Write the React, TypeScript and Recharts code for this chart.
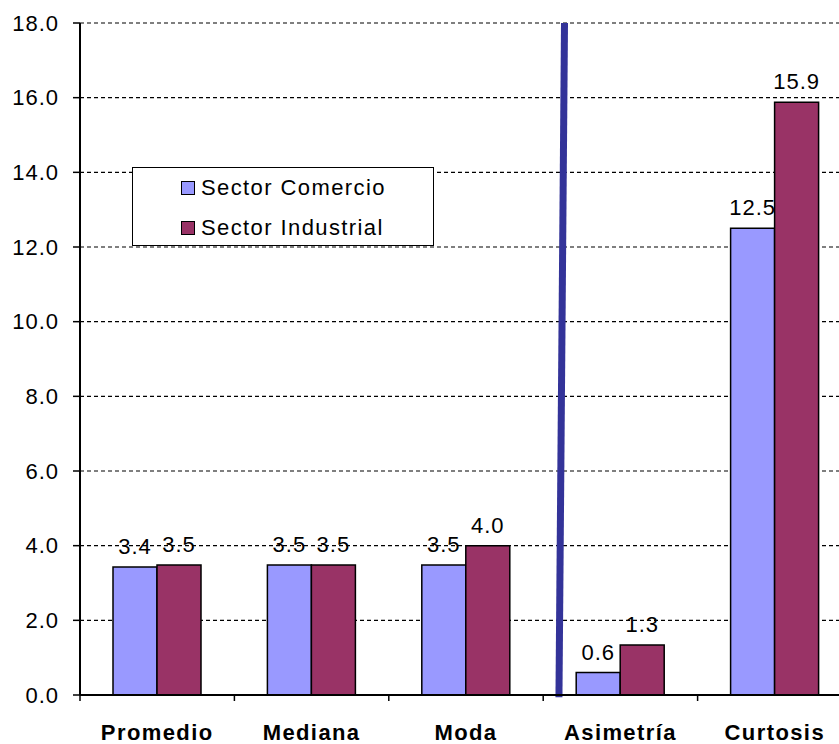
import { BarChart, Bar, XAxis, YAxis, CartesianGrid, LabelList, ReferenceLine } from "recharts";

const categories = ["Promedio", "Mediana", "Moda", "Asimetría", "Curtosis"];
const comercio = [3.43, 3.48, 3.48, 0.6, 12.5];
const industrial = [3.48, 3.48, 4.0, 1.34, 15.88];
const seriesNames = ["Sector Comercio", "Sector Industrial"];
const seriesColors = ["#9999FF", "#993366"];
const yTicks = [0, 2, 4, 6, 8, 10, 12, 14, 16, 18];
// divider drawn between Moda and Asimetría (position on a 0..5 category scale)
const divider = [
  { x: 3.138, y: 18 },
  { x: 3.102, y: -0.06 },
];

const data = categories.map((name, i) => ({ name, slot: i + 0.5, comercio: comercio[i], industrial: industrial[i] }));

const font = '"Liberation Sans", Arial, sans-serif';

const CategoryTick = (props: any) => {
  const { x, y, payload, index } = props;
  const half = payload && payload.offset ? payload.offset : 77.2;
  return (
    <g>
      <line x1={x - half} x2={x - half} y1={y} y2={y + 6} stroke="#000" strokeWidth={1.5} />
      {index === categories.length - 1 && (
        <line x1={x + half} x2={x + half} y1={y} y2={y + 6} stroke="#000" strokeWidth={1.5} />
      )}
      <text x={x} y={y + 45} textAnchor="middle" fontSize={22} fontWeight="bold" fill="#000" fontFamily={font} letterSpacing={1.4}>
        {payload.value}
      </text>
    </g>
  );
};

export default function App() {
  return (
    <div style={{ position: "fixed", left: 0, top: 0, width: 839, height: 744, overflow: "hidden", background: "#fff", fontFamily: font }}>
      <BarChart width={860} height={744} data={data} margin={{ top: 23, right: 8, left: 0, bottom: 0 }} barGap={0} barSize={44}>
        <CartesianGrid vertical={false} stroke="#000" strokeDasharray="4 3" strokeWidth={1.2} />
        <XAxis dataKey="name" height={49} tickLine={false} tickSize={0} tickMargin={0} axisLine={{ stroke: "#000", strokeWidth: 2 }} tick={<CategoryTick />} interval={0} />
        <XAxis xAxisId="num" dataKey="slot" type="number" domain={[0, 5]} allowDataOverflow hide />
        <YAxis
          width={80}
          domain={[0, 18]}
          ticks={yTicks}
          interval={0}
          tickFormatter={(v: number) => v.toFixed(1)}
          tickSize={7}
          tickMargin={14}
          axisLine={{ stroke: "#000", strokeWidth: 2 }}
          tickLine={{ stroke: "#000", strokeWidth: 1.5 }}
          tick={{ fontSize: 22, fill: "#000", fontFamily: font, letterSpacing: 1 }}
        />
        <Bar dataKey="comercio" name={seriesNames[0]} fill={seriesColors[0]} stroke="#000" strokeWidth={1.5} isAnimationActive={false}>
          <LabelList dataKey="comercio" position="top" offset={13} formatter={(v: any) => Number(v).toFixed(1)} fontSize={22} fill="#000" fontFamily={font} letterSpacing={1} />
        </Bar>
        <Bar dataKey="industrial" name={seriesNames[1]} fill={seriesColors[1]} stroke="#000" strokeWidth={1.5} isAnimationActive={false}>
          <LabelList dataKey="industrial" position="top" offset={13} formatter={(v: any) => Number(v).toFixed(1)} fontSize={22} fill="#000" fontFamily={font} letterSpacing={1} />
        </Bar>
        <ReferenceLine xAxisId="num" segment={divider} stroke="#333399" strokeWidth={7} ifOverflow="visible" />
      </BarChart>
      <div
        style={{
          position: "absolute",
          left: 132,
          top: 167,
          width: 302,
          height: 79,
          boxSizing: "border-box",
          border: "1.5px solid #000",
          background: "#fff",
        }}
      >
        {seriesNames.map((n, i) => (
          <div key={n} style={{ position: "absolute", left: 48, top: 6 + i * 40, height: 28, display: "flex", alignItems: "center" }}>
            <span style={{ display: "inline-block", width: 12, height: 12, background: seriesColors[i], border: "1.5px solid #000", marginRight: 6 }} />
            <span style={{ fontSize: 22, color: "#000", letterSpacing: 1.4, lineHeight: "28px" }}>{n}</span>
          </div>
        ))}
      </div>
    </div>
  );
}
